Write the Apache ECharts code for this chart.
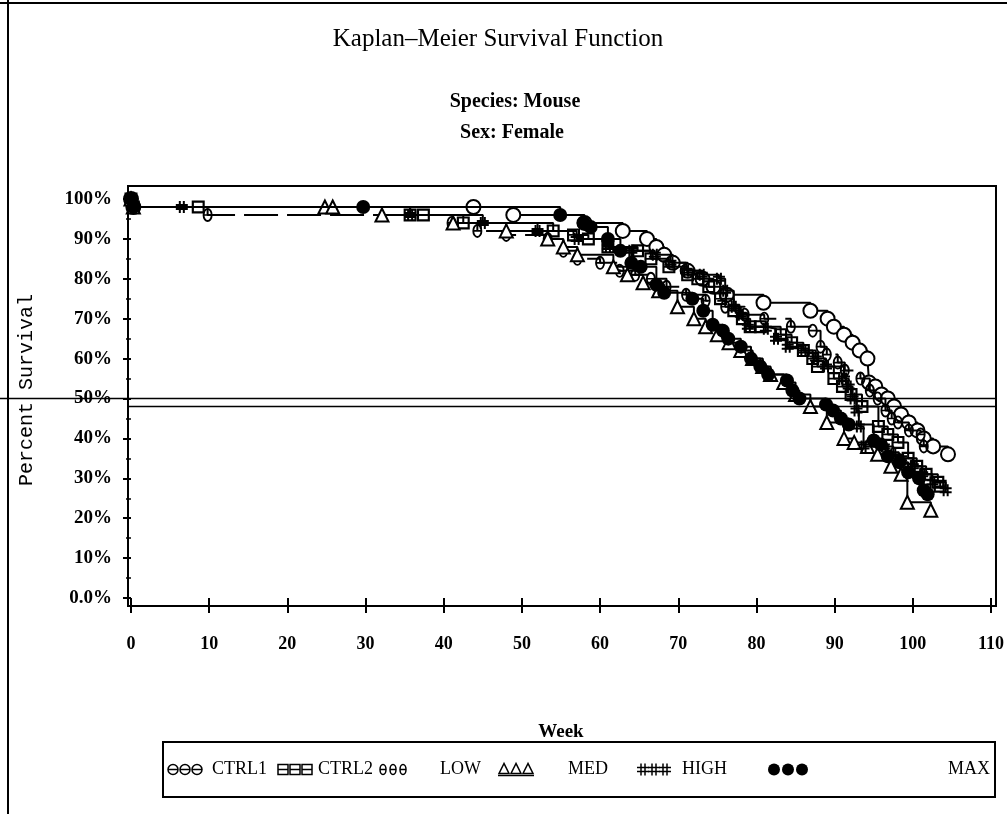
<!DOCTYPE html>
<html><head><meta charset="utf-8">
<script src="https://cdn.jsdelivr.net/npm/echarts@6/dist/echarts.min.js"></script>
<style>html,body{margin:0;padding:0;background:#fff}#c{width:1007px;height:814px}</style>
</head><body><div id="c"></div>
<script>
// ---------- data (week, percent surviving) ----------
const ctrl1 = [[0,100],[0.3,98],[43.8,98],[48.9,96],[58,94],[62.9,92],[66,90],[67.2,88],[68.2,86],[69.3,84],[71.2,82],[73.1,80],[74.5,78],[76.2,76],[80.9,74],[86.9,72],[89.1,70],[89.9,68],[91.2,66],[92.3,64],[93.2,62],[94.2,60],[94.4,54],[95.2,53],[96,51],[96.8,50],[97.6,48],[98.5,46],[99.5,44],[100.6,42],[101.4,40],[102.6,38],[104.5,36]];
const ctrl2 = [[0,100],[0.3,98],[8.6,98],[35.7,96],[37.4,96],[42.5,94],[54,92],[56.6,91],[58.5,90],[61,88],[64.8,87],[66.5,85],[68.8,83],[71.2,81],[72.5,80],[73.9,78],[75.4,75],[77.1,72],[78.2,70],[79.2,68],[80.5,68],[83.1,66],[84.5,64],[86,62],[87.2,60],[87.8,58],[89.9,55],[91,53],[92.1,51],[93.5,48],[95.6,43],[96.8,41],[98.1,39],[99.4,35],[100.5,33],[101.7,31],[103.2,29],[103.5,28]];
const low   = [[0,100],[0.3,98],[9.8,96],[41,94],[44.3,92],[48,91],[53.3,90],[55.3,87],[57.1,85],[60,84],[62.5,82],[64.5,81],[66.5,80],[68.5,78],[71,76],[73.5,74.5],[76,73],[78.5,71],[81,70],[84.4,68],[87.2,67],[88.2,63],[89,61],[90.4,59],[91.3,57],[93.3,55],[94.5,52],[95.5,50],[96.5,47],[97.3,45],[98.1,44],[99.5,42],[101,41],[101.4,38]];
const med   = [[0,100],[0.3,98],[24.8,98],[25.8,98],[32.1,96],[41.2,94],[48,92],[53.3,90],[55.3,88],[57.1,86],[61.7,83],[63.5,81],[65.5,79],[67.5,77],[69.9,73],[72,70],[73.5,68],[75,66],[76.5,64],[78,62],[79.5,60],[80.8,58],[81.8,56],[83.5,54],[85,51],[86.9,48],[89,44],[91.2,40],[92.5,39],[94.2,38],[95.5,36],[97.2,33],[98.5,31],[99.3,24],[102.3,22]];
const high  = [[0,100],[0.3,98],[6.5,98],[35.7,96],[45,94],[52,92],[57,90],[61,88],[64,87],[67,86],[69,84],[71,82],[73,81],[75.2,80],[76,77],[77.1,73],[78,71],[78.9,68],[81.2,67.5],[82.5,65],[84,63],[86,62],[87.6,60],[88.9,58],[91.2,55],[91.8,53],[92.3,50],[92.8,47],[93.1,43],[93.7,38],[96.3,38],[97.5,36],[98.5,35],[100,33],[101.2,31],[102.5,29],[104.2,27]];
const maxd  = [[0,100],[0.3,98],[29.7,98],[54.9,96],[57.9,94],[58.8,93],[61,90],[62.6,87],[64,84],[65.2,83],[67.2,78.5],[68.2,76.5],[71.8,75],[73.2,72],[74.4,68.5],[75.7,67],[76.4,65],[78,63],[79.3,60],[80.5,58],[81.5,56],[83.9,54.5],[84.6,52],[85.5,50],[88.9,48.5],[89.8,47],[90.8,45],[91.8,43.5],[95,39.5],[95.9,38.5],[96.8,35.5],[98.3,34],[99.4,31.5],[100.8,30],[101.4,27],[101.9,26]];
const groupNames = ['CTRL1','CTRL2','LOW','MED','HIGH','MAX'];
const refLines = [50, 48];
const yTickLabels = {0:'0.0%',10:'10%',20:'20%',30:'30%',40:'40%',50:'50%',60:'60%',70:'70%',80:'80%',90:'90%',100:'100%'};

// ---------- styling ----------
const SERIF = "'Liberation Serif','DejaVu Serif',serif";
const MONO = "'Liberation Mono','DejaVu Sans Mono',monospace";
const HASH = 'path://M3,0H5V12H3Z M7,0H9V12H7Z M0,3H12V5H0Z M0,7H12V9H0Z';
const SQBAR = 'path://M0,0H12V12H0Z M2,2V10H10V2Z M2,5.2H10V6.8H2Z';
const THETA = 'path://M4 0A4 6 0 1 1 4 12A4 6 0 1 1 4 0Z M4 1.6A2.5 4.4 0 1 0 4 10.4A2.5 4.4 0 1 0 4 1.6Z M1.5 5.3H6.5V6.7H1.5Z';
const styles = [
  {symbol:'emptyCircle', size:14, line:'solid', bw:2},
  {symbol:SQBAR, size:13, line:'solid', bw:0},
  {symbol:THETA, size:[10,14], line:[34,9], bw:0},
  {symbol:'emptyTriangle', size:13, line:'solid', bw:2},
  {symbol:HASH, size:12, line:'solid', bw:0},
  {symbol:'circle', size:14, line:'solid', bw:0}
];
const datasets = [ctrl1, ctrl2, low, med, high, maxd];

const chart = echarts.init(document.getElementById('c'));
const series = datasets.map((d,i)=>({
  name: groupNames[i], type:'line', data:d, step:'end',
  symbol: styles[i].symbol, symbolSize: styles[i].size, showAllSymbol:true,
  lineStyle:{color:'#000', width:2, type: styles[i].line},
  itemStyle:{color:'#000', borderColor:'#000', borderWidth: styles[i].bw},
  emphasis:{disabled:true}, animation:false, z: 2+i
}));

chart.setOption({
  animation:false,
  backgroundColor:'#fff',
  title:[
    {text:'Kaplan–Meier Survival Function', left:493, top:22, textAlign:'center',
     textStyle:{fontFamily:SERIF, fontSize:25, fontWeight:'normal', color:'#000'}},
    {text:'Species: Mouse', left:510, top:87, textAlign:'center',
     textStyle:{fontFamily:SERIF, fontSize:20, fontWeight:'bold', color:'#000'}},
    {text:'Sex: Female', left:507, top:118, textAlign:'center',
     textStyle:{fontFamily:SERIF, fontSize:20, fontWeight:'bold', color:'#000'}}
  ],
  grid:{left:131, right:16, top:199, bottom:216, containLabel:false},
  xAxis:{type:'value', min:0, max:110, interval:10, offset:8,
    name:'Week', nameLocation:'middle', nameGap:117,
    nameTextStyle:{fontFamily:SERIF, fontSize:19, fontWeight:'bold', color:'#000'},
    axisLine:{show:false}, splitLine:{show:false},
    axisTick:{show:true, length:15, inside:false, lineStyle:{color:'#000', width:2}},
    axisLabel:{margin:29, fontFamily:SERIF, fontSize:18, fontWeight:'bold', color:'#000'}},
  yAxis:{type:'value', min:0, max:100, interval:10, offset:3,
    axisLine:{show:false}, splitLine:{show:false},
    axisTick:{show:true, length:8, inside:false, lineStyle:{color:'#000', width:2}},
    minorTick:{show:true, splitNumber:2, length:5, lineStyle:{color:'#000', width:1.5}},
    axisLabel:{margin:16, fontFamily:SERIF, fontSize:19, fontWeight:'bold', color:'#000',
      formatter:v=>yTickLabels[v]}},
  series: series
});

// frame, reference lines, axis title, legend
const p0 = chart.convertToPixel({gridIndex:0},[0,0]);
const p1 = chart.convertToPixel({gridIndex:0},[110,100]);
const fx0 = p0[0]-3, fx1 = p1[0]+5, fy0 = p1[1]-13, fy1 = p0[1]+8;
const g = [];
g.push({type:'rect', silent:true, z:50, shape:{x:fx0, y:fy0, width:fx1-fx0, height:fy1-fy0},
  style:{fill:null, stroke:'#000', lineWidth:2}});
refLines.forEach((v,i)=>{
  const y = chart.convertToPixel({gridIndex:0},[0,v])[1];
  g.push({type:'line', silent:true, z:50, shape:{x1: i===0?0:fx0, y1:y, x2:fx1, y2:y},
    style:{stroke:'#000', lineWidth:1.5}});
});
// page border
g.push({type:'line', silent:true, shape:{x1:0,y1:3,x2:1007,y2:3}, style:{stroke:'#000', lineWidth:2}});
g.push({type:'line', silent:true, shape:{x1:8,y1:0,x2:8,y2:814}, style:{stroke:'#000', lineWidth:2}});
// y axis title
g.push({type:'text', silent:true, x:27, y:(fy0+fy1)/2-6, rotation:Math.PI/2,
  style:{text:'Percent Survival', font:"20px "+MONO, fill:'#000', align:'center', verticalAlign:'middle'}});

// legend box
const LB = {x:163, y:742, w:832, h:55};
g.push({type:'rect', silent:true, shape:{x:LB.x, y:LB.y, width:LB.w, height:LB.h},
  style:{fill:null, stroke:'#000', lineWidth:2}});
const legSymX = [[173,185,197],[283,295,307],[383,393,403],[504,516,528],[643,654,665],[774,788,802]];
const legTextX = [212,318,440,568,682,948];
const ly = LB.y + LB.h/2;
function legSym(i, cx, cy){
  const st = {stroke:'#000', lineWidth:1.5, fill:null};
  if(i===0) return [{type:'circle', shape:{cx,cy,r:5}, style:st},
                    {type:'line', shape:{x1:cx-5,y1:cy,x2:cx+5,y2:cy}, style:st}];
  if(i===1) return [{type:'rect', shape:{x:cx-5,y:cy-5,width:10,height:10}, style:st},
                    {type:'line', shape:{x1:cx-5,y1:cy,x2:cx+5,y2:cy}, style:st}];
  if(i===2) return [{type:'ellipse', shape:{cx,cy,rx:3,ry:5}, style:st},
                    {type:'line', shape:{x1:cx-3,y1:cy,x2:cx+3,y2:cy}, style:st}];
  if(i===3) return [{type:'polygon', shape:{points:[[cx,cy-6],[cx-5,cy+4],[cx+5,cy+4]]}, style:st},
                    {type:'line', shape:{x1:cx-6,y1:cy+6,x2:cx+6,y2:cy+6}, style:st}];
  if(i===4) return [{type:'line', shape:{x1:cx-2,y1:cy-6,x2:cx-2,y2:cy+6}, style:st},
                    {type:'line', shape:{x1:cx+2,y1:cy-6,x2:cx+2,y2:cy+6}, style:st},
                    {type:'line', shape:{x1:cx-6,y1:cy-2,x2:cx+6,y2:cy-2}, style:st},
                    {type:'line', shape:{x1:cx-6,y1:cy+2,x2:cx+6,y2:cy+2}, style:st}];
  return [{type:'circle', shape:{cx,cy,r:6}, style:{fill:'#000'}}];
}
groupNames.forEach((n,i)=>{
  legSymX[i].forEach(cx=>legSym(i,cx,ly).forEach(e=>{e.silent=true; g.push(e);}));
  g.push({type:'text', silent:true, x:legTextX[i], y:ly,
    style:{text:n, font:"18px "+SERIF, fill:'#000', align:'left', verticalAlign:'middle'}});
});
chart.setOption({graphic:g});
</script></body></html>
